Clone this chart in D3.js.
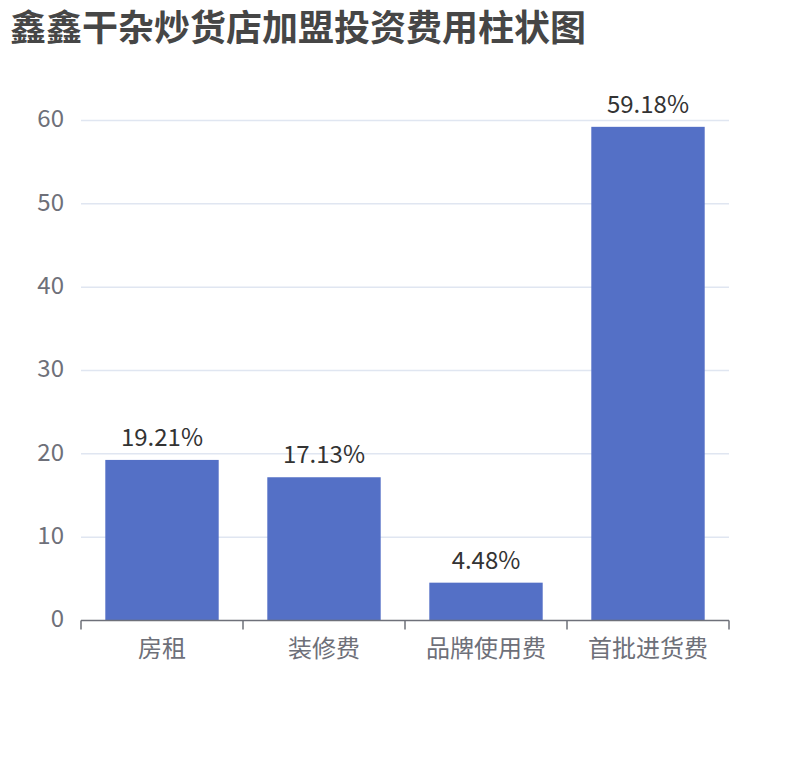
<!DOCTYPE html>
<html>
<head>
<meta charset="utf-8">
<style>
  body { margin: 0; background: #fff; }
  text { font-family: "Noto Sans CJK SC", "Noto Sans", sans-serif; }
</style>
</head>
<body>
<script src="https://cdn.jsdelivr.net/npm/d3@7"></script>
<script>
  var categories = ["房租", "装修费", "品牌使用费", "首批进货费"];
  var values = [19.21, 17.13, 4.48, 59.18];
  var yTicks = [0, 10, 20, 30, 40, 50, 60];

  var W = 810, H = 760,
      plot = {left: 81, right: 729, top: 120, bottom: 620};

  var svg = d3.select("body").append("svg")
      .attr("width", W)
      .attr("height", H);

  svg.append("text")
      .attr("x", 10)
      .attr("y", 41)
      .attr("font-size", 36)
      .attr("font-weight", "bold")
      .attr("fill", "#464646")
      .text("鑫鑫干杂炒货店加盟投资费用柱状图");

  var x = d3.scaleBand()
      .domain(categories)
      .range([plot.left, plot.right])
      .paddingInner(0.3)
      .paddingOuter(0.15);

  var y = d3.scaleLinear()
      .domain([0, 60])
      .range([plot.bottom, plot.top]);

  // grid lines
  svg.append("g").selectAll("line")
      .data(yTicks.filter(function(d) { return d > 0; }))
      .enter().append("line")
      .attr("x1", plot.left)
      .attr("x2", plot.right)
      .attr("y1", function(d) { return y(d) + 0.5; })
      .attr("y2", function(d) { return y(d) + 0.5; })
      .attr("stroke", "#E0E6F1")
      .attr("stroke-width", 1.5);

  // y axis labels (no line)
  var yAxis = d3.axisLeft(y).tickValues(yTicks).tickSize(0).tickPadding(17);
  var gy = svg.append("g")
      .attr("transform", "translate(" + plot.left + ",0)")
      .call(yAxis);
  gy.select(".domain").remove();
  gy.selectAll("text")
      .attr("font-size", 24)
      .attr("dy", "0.28em")
      .attr("fill", "#6E7079")
      .attr("font-family", "'Noto Sans CJK SC', 'Noto Sans', sans-serif");

  // bars
  svg.append("g").selectAll("rect")
      .data(values)
      .enter().append("rect")
      .attr("x", function(d, i) { return x(categories[i]); })
      .attr("y", function(d) { return y(d); })
      .attr("width", x.bandwidth())
      .attr("height", function(d) { return y(0) - y(d); })
      .attr("fill", "#5470C6");

  // value labels
  svg.append("g").selectAll("text")
      .data(values)
      .enter().append("text")
      .attr("x", function(d, i) { return x(categories[i]) + x.bandwidth() / 2; })
      .attr("y", function(d) { return y(d) - 14; })
      .attr("text-anchor", "middle")
      .attr("font-size", 24)
      .attr("fill", "#333")
      .text(function(d) { return d.toFixed(2) + "%"; });

  // x axis
  var step = (plot.right - plot.left) / categories.length;
  var gx = svg.append("g").attr("transform", "translate(0," + (plot.bottom + 0.5) + ")");
  gx.append("line")
      .attr("x1", plot.left).attr("x2", plot.right)
      .attr("stroke", "#6E7079").attr("stroke-width", 1.5);
  gx.selectAll(".tick")
      .data(d3.range(categories.length + 1))
      .enter().append("line")
      .attr("x1", function(i) { return plot.left + i * step; })
      .attr("x2", function(i) { return plot.left + i * step; })
      .attr("y1", 0).attr("y2", 9)
      .attr("stroke", "#6E7079").attr("stroke-width", 1.5);
  gx.selectAll("text")
      .data(categories)
      .enter().append("text")
      .attr("x", function(d) { return x(d) + x.bandwidth() / 2; })
      .attr("y", 36)
      .attr("text-anchor", "middle")
      .attr("font-size", 24)
      .attr("fill", "#6E7079")
      .text(function(d) { return d; });
</script>
</body>
</html>
